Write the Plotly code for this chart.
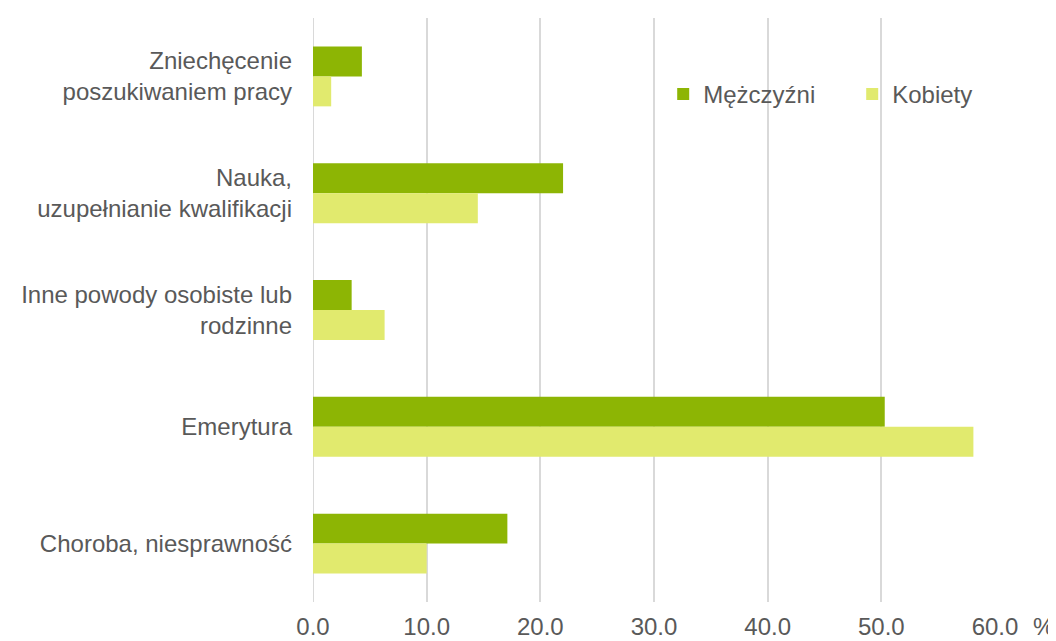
import plotly.graph_objects as go

categories = [
    "Zniechęcenie<br>poszukiwaniem pracy",
    "Nauka,<br>uzupełnianie kwalifikacji",
    "Inne powody osobiste lub<br>rodzinne",
    "Emerytura",
    "Choroba, niesprawność",
]
men = [4.3, 22.0, 3.4, 50.3, 17.1]
women = [1.6, 14.5, 6.3, 58.1, 10.0]
series_names = ["Mężczyźni", "Kobiety"]
x_ticks = [0, 10, 20, 30, 40, 50, 60]
x_tick_labels = ["0.0", "10.0", "20.0", "30.0", "40.0", "50.0", "60.0"]

FONT = "Liberation Sans, Arial, sans-serif"
TXT = "#595959"

fig = go.Figure()
fig.add_trace(go.Bar(y=categories, x=men, name=series_names[0], orientation="h",
                     marker=dict(color="#8DB504", line=dict(width=0))))
fig.add_trace(go.Bar(y=categories, x=women, name=series_names[1], orientation="h",
                     marker=dict(color="#E1EA6E", line=dict(width=0))))

fig.update_layout(
    width=1056, height=641,
    margin=dict(l=305, r=69, t=9.5, b=46.5, pad=0, autoexpand=False),
    paper_bgcolor="white", plot_bgcolor="white",
    barmode="group", bargap=0.487, bargroupgap=0,
    font=dict(family=FONT, size=24, color=TXT),
    showlegend=True,
    legend=dict(orientation="h", x=0.5135, y=0.869, xanchor="left", yanchor="middle",
                font=dict(size=24, color=TXT), bgcolor="rgba(0,0,0,0)",
                traceorder="normal", entrywidth=144, entrywidthmode="pixels"),
    xaxis=dict(range=[0, 60], tickvals=x_ticks, ticktext=x_tick_labels,
               showgrid=True, gridcolor="#D9D9D9", gridwidth=2,
               zeroline=False, showline=False, ticks="", ticklabelstandoff=8,
               automargin=False, tickfont=dict(size=24, color=TXT)),
    yaxis=dict(autorange="reversed", showgrid=False, zeroline=False, showline=False,
               ticks="", ticklabelstandoff=20, automargin=False,
               tickfont=dict(size=24, color=TXT)),
)
fig.add_shape(type="line", xref="x", yref="paper", x0=0, x1=0, y0=0, y1=1,
              line=dict(color="#D9D9D9", width=2), layer="below")
fig.add_annotation(text="%", xref="paper", yref="paper", x=1.0, y=0, xshift=48, yshift=-24,
                   showarrow=False, font=dict(size=24, color=TXT), xanchor="center", yanchor="middle")

fig.write_html("out.html")
